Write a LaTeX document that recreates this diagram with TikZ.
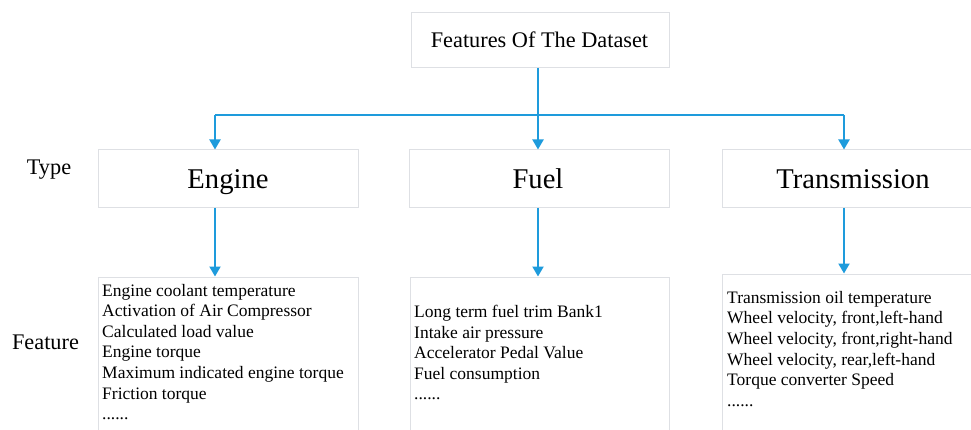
\documentclass[tikz,border=0pt]{standalone}
\usepackage{fontspec}
\setmainfont{Liberation Serif}
\usetikzlibrary{arrows.meta}
\definecolor{arrowblue}{RGB}{30,155,220}
\definecolor{boxgray}{RGB}{222,224,228}
\newcommand\mysixdots{......}
\tikzset{
  box/.style={draw=boxgray, line width=1pt, fill=white},
  link/.style={draw=arrowblue, line width=2pt},
  arr/.style={link, -{Triangle[width=11pt,length=10pt]}, shorten >=0.5pt},
  big/.style={font=\fontsize{28.6}{32}\selectfont, anchor=base, inner sep=0pt},
  mid/.style={font=\fontsize{22.3}{26}\selectfont, anchor=base, inner sep=0pt},
  item/.style={font=\fontsize{17.5}{20.7}\selectfont, anchor=base west, inner sep=0pt},
}
\begin{document}
\begin{tikzpicture}[x=1pt,y=-1pt]
\clip (0,0) rectangle (971,430);
\fill[white] (0,0) rectangle (971,430);
% boxes
\draw[box] (411,13) rectangle (669,68);
\coordinate (topb) at (538,68);
\node[mid] (title) at (539.5,48) {Features Of The Dataset};

\draw[box] (98,150) rectangle (358,208);
\draw[box] (409,150) rectangle (669,208);
\draw[box] (722,150) rectangle (990,208);
\node[big] (engine) at (228,189) {Engine};
\node[big] (fuel) at (538,189) {Fuel};
\node[big] (trans) at (853,189) {Transmission};

\draw[box] (98,277) rectangle (358,440);
\draw[box] (410,277) rectangle (669,440);
\draw[box] (722,274) rectangle (990,440);

\node[mid] (typelbl) at (49,175) {Type};
\node[mid] (featlbl) at (45.5,349) {Feature};

% connectors
\coordinate (eT) at (215,150);
\coordinate (fT) at (538,150);
\coordinate (tT) at (844,150);
\coordinate (eJ) at (215,115);
\coordinate (fJ) at (538,115);
\coordinate (tJ) at (844,115);
\coordinate (eB) at (215,208);
\coordinate (fB) at (538,208);
\coordinate (tB) at (844,208);
\coordinate (eL) at (215,277);
\coordinate (fL) at (538,277);
\coordinate (tL) at (844,274);

\draw[link] (topb) -- (fJ);
\draw[link] (eJ) -- (tJ);
\draw[arr] (eJ) -- (eT);
\draw[arr] (fJ) -- (fT);
\draw[arr] (tJ) -- (tT);
\draw[arr] (eB) -- (eL);
\draw[arr] (fB) -- (fL);
\draw[arr] (tB) -- (tL);

% feature lists
\foreach \t [count=\i] in {Engine coolant temperature, Activation of Air Compressor, Calculated load value, Engine torque, Maximum indicated engine torque, Friction torque, \mysixdots}
  \node[item] (e\i) at (102,{296+(\i-1)*20.6}) {\t};
\foreach \t [count=\i] in {Long term fuel trim Bank1, Intake air pressure, Accelerator Pedal Value, Fuel consumption, \mysixdots}
  \node[item] (f\i) at (414,{317.5+(\i-1)*20.5}) {\t};
\node[item] (t1) at (727,303) {Transmission oil temperature};
\node[item] (t2) at (727,323.7) {Wheel velocity, front,left-hand};
\node[item] (t3) at (727,344.4) {Wheel velocity, front,right-hand};
\node[item] (t4) at (727,365.1) {Wheel velocity, rear,left-hand};
\node[item] (t5) at (727,385.8) {Torque converter Speed};
\node[item] (t6) at (727,406.5) {\mysixdots};
\end{tikzpicture}
\end{document}
